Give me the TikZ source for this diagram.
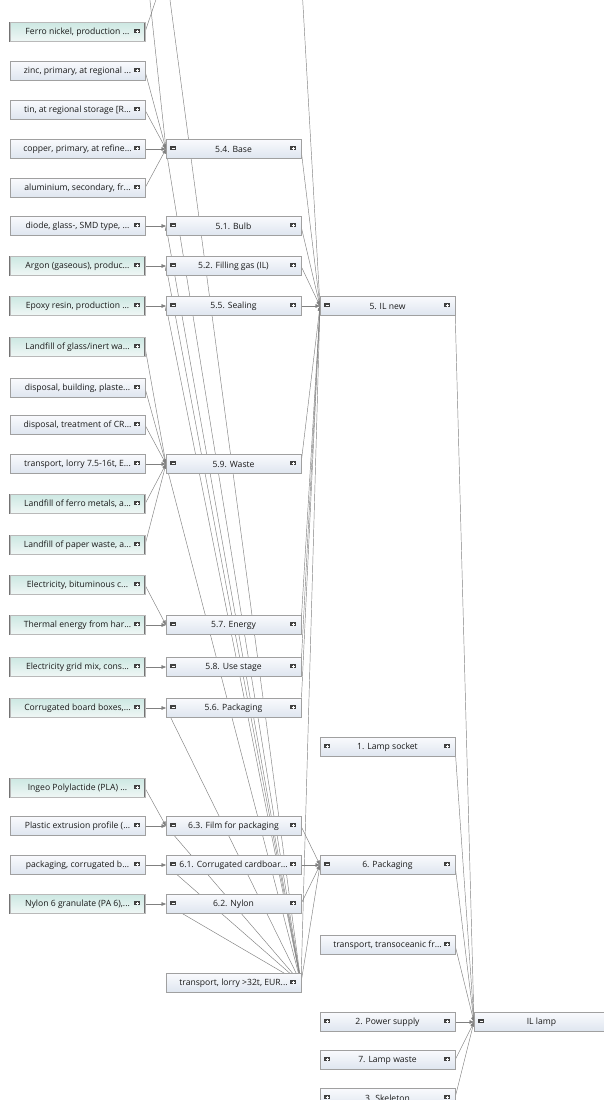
\documentclass[tikz,border=0pt]{standalone}
\usepackage{fontspec}
\setmainfont{Open Sans}
\usepackage{tikz}
\usetikzlibrary{positioning, arrows.meta, backgrounds}
\definecolor{boxline}{RGB}{160,160,160}
\definecolor{libline}{RGB}{115,115,115}
\definecolor{libinner}{RGB}{185,185,185}
\definecolor{linkgray}{RGB}{128,128,128}
\definecolor{plaintop}{RGB}{249,250,253}
\definecolor{plainbot}{RGB}{222,229,239}
\definecolor{libtop}{RGB}{205,232,227}
\definecolor{libbot}{RGB}{240,247,246}
\definecolor{icongray}{RGB}{64,64,64}
\newcommand{\boxicon}[3]{%
  \coordinate (ic) at ([xshift=#2, yshift=1pt]path picture bounding box.#1);
  \fill [icongray] ([xshift=-2.6pt, yshift=-2.4pt]ic) rectangle ([xshift=2.6pt, yshift=2.4pt]ic);
  \draw [white, line width=0.7pt] ([xshift=-1.5pt]ic) -- ([xshift=1.5pt]ic);
  \ifnum#3=1 \draw [white, line width=0.7pt] ([yshift=-1.5pt]ic) -- ([yshift=1.5pt]ic);\fi}

\begin{document}
\begin{tikzpicture}[x=1pt, y=-1pt, node distance = 20pt, >={Triangle[length=4.5pt, width=3.6pt]},
  plain/.style={rectangle, draw=boxline, line width=0.6pt, top color=plaintop, bottom color=plainbot, minimum width=135pt, minimum height=19pt, inner sep=0pt, outer sep=0pt, text=black!90, font=\fontsize{8.6}{10}\selectfont},
  lib/.style={plain, draw=libline, line width=0.55pt, double=libinner, double distance=0.7pt, top color=libtop, bottom color=libbot},
  rp/.style={path picture={\boxicon{east}{-8pt}{1}}},
  lm/.style={path picture={\boxicon{west}{7pt}{0}}},
  lmrp/.style={path picture={\boxicon{west}{7pt}{0}\boxicon{east}{-8pt}{1}}},
  lprp/.style={path picture={\boxicon{west}{7pt}{1}\boxicon{east}{-8pt}{1}}},
  link/.style={draw=linkgray, line width=0.45pt, ->}]
  \useasboundingbox (0,0) rectangle (604,1100);
  \clip (0,0) rectangle (604,1100);

  % nodes
  \node [lib, rp] (ferro) at (77.5, 32) {Ferro nickel, production ...};
  \node [plain, rp] (zinc) at (77.5, 71) {zinc, primary, at regional ...};
  \node [plain, rp] (tin) at (77.5, 110) {tin, at regional storage [R...};
  \node [plain, rp] (copper) at (77.5, 149) {copper, primary, at refine...};
  \node [plain, rp] (alu) at (77.5, 188) {aluminium, secondary, fr...};
  \node [plain, rp] (diode) at (77.5, 226) {diode, glass-, SMD type, ...};
  \node [lib, rp] (argon) at (77.5, 266) {Argon (gaseous), produc...};
  \node [lib, rp] (epoxy) at (77.5, 306) {Epoxy resin, production ...};
  \node [lib, rp] (lglass) at (77.5, 347) {Landfill of glass/inert wa...};
  \node [plain, rp] (dbuild) at (77.5, 388) {disposal, building, plaste...};
  \node [plain, rp] (dcrt) at (77.5, 425) {disposal, treatment of CR...};
  \node [plain, rp] (lorry) at (77.5, 464) {transport, lorry 7.5-16t, E...};
  \node [lib, rp] (lferro) at (77.5, 504) {Landfill of ferro metals, a...};
  \node [lib, rp] (lpaper) at (77.5, 545) {Landfill of paper waste, a...};
  \node [lib, rp] (elbit) at (77.5, 585) {Electricity, bituminous c...};
  \node [lib, rp] (thermal) at (77.5, 625) {Thermal energy from har...};
  \node [lib, rp] (elgrid) at (77.5, 667) {Electricity grid mix, cons...};
  \node [lib, rp] (boxes) at (77.5, 708) {Corrugated board boxes,...};
  \node [lib, rp] (pla) at (77.5, 788) {Ingeo Polylactide (PLA) ...};
  \node [plain, rp] (extr) at (77.5, 826) {Plastic extrusion profile (...};
  \node [plain, rp] (corr) at (77.5, 865) {packaging, corrugated b...};
  \node [lib, rp] (nylon) at (77.5, 904) {Nylon 6 granulate (PA 6),...};

  \node [plain, lmrp][right = 21pt of copper] (base) {5.4. Base};
  \node [plain, lmrp][right = 21pt of diode] (bulb) {5.1. Bulb};
  \node [plain, lmrp][right = 21pt of argon] (gas) {5.2. Filling gas (IL)};
  \node [plain, lmrp][right = 21pt of epoxy] (seal) {5.5. Sealing};
  \node [plain, lmrp][right = 21pt of lorry] (waste) {5.9. Waste};
  \node [plain, lmrp][right = 21pt of thermal] (energy) {5.7. Energy};
  \node [plain, lmrp][right = 21pt of elgrid] (use) {5.8. Use stage};
  \node [plain, lmrp][right = 21pt of boxes] (packfive) {5.6. Packaging};
  \node [plain, lmrp][right = 21pt of extr] (film) {6.3. Film for packaging};
  \node [plain, lmrp][right = 21pt of corr] (cardb) {6.1. Corrugated cardboar...};
  \node [plain, lmrp][right = 21pt of nylon] (nylonsix) {6.2. Nylon};
  \node [plain, rp] (lorrybig) at (233.5, 983) {transport, lorry >32t, EUR...};

  \node [plain, lmrp][right = 19pt of seal] (ilnew) {5. IL new};
  \node [plain, lprp] (socket) at (387.5, 747) {1. Lamp socket};
  \node [plain, lmrp][right = 19pt of cardb] (packsix) {6. Packaging};
  \node [plain, rp] (ocean) at (387.5, 945) {transport, transoceanic fr...};
  \node [plain, lprp] (power) at (387.5, 1022) {2. Power supply};
  \node [plain, lprp][below = 19pt of power] (lampwaste) {7. Lamp waste};
  \node [plain, lprp][below = 19pt of lampwaste] (skeleton) {3. Skeleton};
  \node [plain, lm][right = 19pt of power] (lamp) {IL lamp};

  % ends of processes above the cut
  \coordinate (upin) at (166, -30);
  \coordinate (upout) at (301, -30);
  \coordinate (upsrc) at (145, -46);

  \begin{scope}[on background layer]
    \clip (0,0) rectangle (604,1100);
    \fill [white] (0,0) rectangle (604,1100);
    % edges
    \draw [link] (upsrc) -- (base.west);
    \draw [link] (zinc.east) -- (base.west);
    \draw [link] (tin.east) -- (base.west);
    \draw [link] (copper.east) -- (base.west);
    \draw [link] (alu.east) -- (base.west);
    \draw [link] (ferro.east) -- (upin);
    \draw [link] (diode.east) -- (bulb.west);
    \draw [link] (argon.east) -- (gas.west);
    \draw [link] (epoxy.east) -- (seal.west);
    \draw [link] (lglass.east) -- (waste.west);
    \draw [link] (dbuild.east) -- (waste.west);
    \draw [link] (dcrt.east) -- (waste.west);
    \draw [link] (lorry.east) -- (waste.west);
    \draw [link] (lferro.east) -- (waste.west);
    \draw [link] (lpaper.east) -- (waste.west);
    \draw [link] (elbit.east) -- (energy.west);
    \draw [link] (thermal.east) -- (energy.west);
    \draw [link] (elgrid.east) -- (use.west);
    \draw [link] (boxes.east) -- (packfive.west);
    \draw [link] (pla.east) -- (film.west);
    \draw [link] (extr.east) -- (film.west);
    \draw [link] (corr.east) -- (cardb.west);
    \draw [link] (nylon.east) -- (nylonsix.west);

    \draw [link] (lorrybig.east) -- (upin);
    \draw [link] (lorrybig.east) -- (base.west);
    \draw [link] (lorrybig.east) -- (bulb.west);
    \draw [link] (lorrybig.east) -- (gas.west);
    \draw [link] (lorrybig.east) -- (seal.west);
    \draw [link] (lorrybig.east) -- (waste.west);
    \draw [link] (lorrybig.east) -- (packfive.west);
    \draw [link] (lorrybig.east) -- (film.west);
    \draw [link] (lorrybig.east) -- (cardb.west);
    \draw [link] (lorrybig.east) -- (nylonsix.west);
    \draw [link] (lorrybig.east) -- (ilnew.west);
    \draw [link] (lorrybig.east) -- (packsix.west);

    \draw [link] (upout) -- (ilnew.west);
    \draw [link] (base.east) -- (ilnew.west);
    \draw [link] (bulb.east) -- (ilnew.west);
    \draw [link] (gas.east) -- (ilnew.west);
    \draw [link] (seal.east) -- (ilnew.west);
    \draw [link] (waste.east) -- (ilnew.west);
    \draw [link] (energy.east) -- (ilnew.west);
    \draw [link] (use.east) -- (ilnew.west);
    \draw [link] (packfive.east) -- (ilnew.west);
    \draw [link] (film.east) -- (packsix.west);
    \draw [link] (cardb.east) -- (packsix.west);
    \draw [link] (nylonsix.east) -- (packsix.west);

    \draw [link] (ilnew.east) -- (lamp.west);
    \draw [link] (socket.east) -- (lamp.west);
    \draw [link] (packsix.east) -- (lamp.west);
    \draw [link] (ocean.east) -- (lamp.west);
    \draw [link] (power.east) -- (lamp.west);
    \draw [link] (lampwaste.east) -- (lamp.west);
    \draw [link] (skeleton.east) -- (lamp.west);
  \end{scope}
\end{tikzpicture}
\end{document}
